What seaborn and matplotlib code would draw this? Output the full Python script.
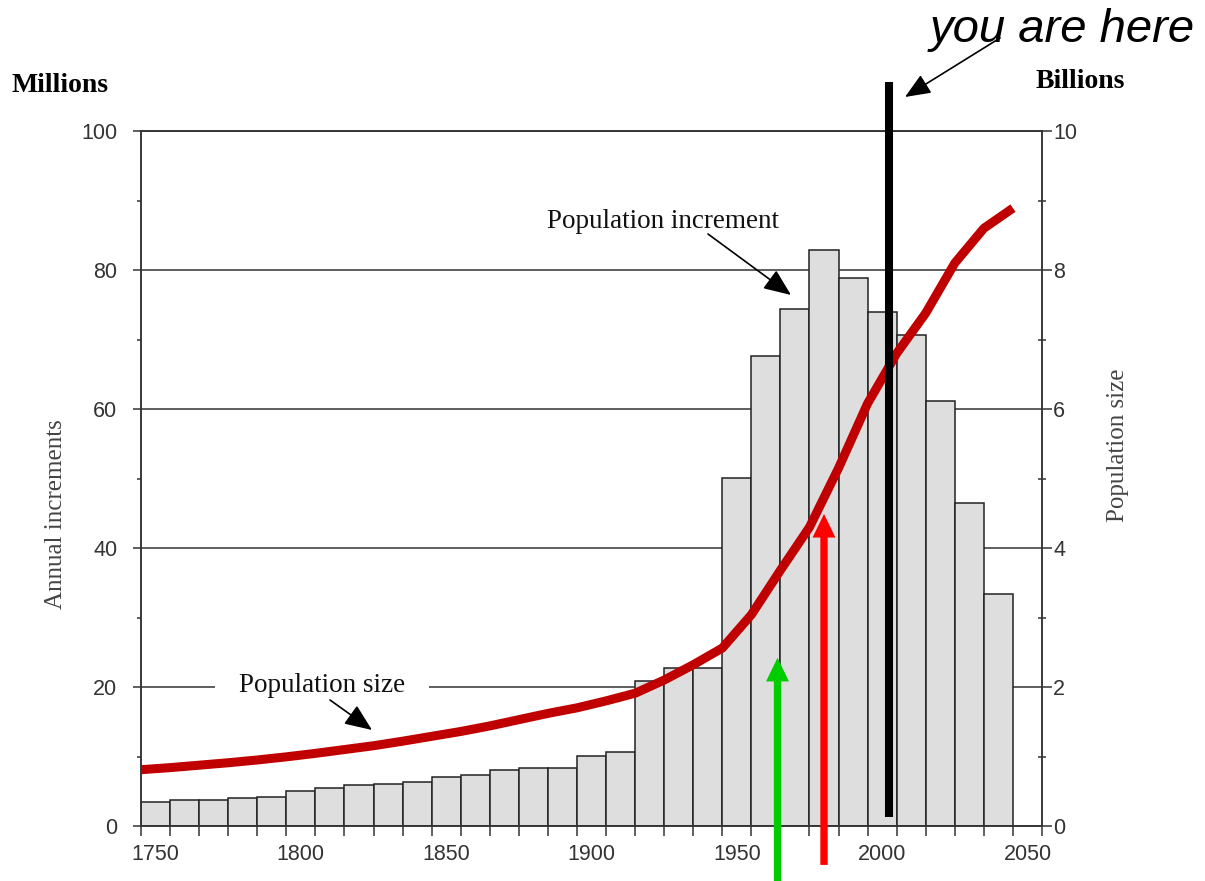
import numpy as np
import pandas as pd
import matplotlib
matplotlib.use('Agg')
import matplotlib.pyplot as plt
import seaborn as sns

# Annual population increments (millions), one bar per decade
bar_years = list(range(1750, 2050, 10))
increments = [3.5, 3.7, 3.7, 4.0, 4.2, 5.0, 5.5, 5.9, 6.0, 6.3,
              7.0, 7.3, 8.0, 8.4, 8.4, 10.1, 10.7, 20.9, 22.8, 22.8,
              50.1, 67.6, 74.4, 82.9, 78.8, 73.9, 70.7, 61.1, 46.5, 33.4]

# Population size (billions), read at the bar edges
pop_years = list(range(1745, 2046, 10))
pop_size = [0.81, 0.84, 0.875, 0.91, 0.95, 0.995, 1.045, 1.10, 1.155, 1.22,
            1.29, 1.36, 1.44, 1.53, 1.62, 1.70, 1.80, 1.91, 2.10, 2.32,
            2.56, 3.04, 3.68, 4.30, 5.15, 6.08, 6.80, 7.38, 8.10, 8.60, 8.89]

x_labels = [1750, 1800, 1850, 1900, 1950, 2000, 2050]
left_ticks = [0, 20, 40, 60, 80, 100]
right_ticks = [0, 2, 4, 6, 8, 10]

# marker years: "you are here", green and red arrows
now_year = 2002.4
green_year = 1964
red_year = 1980

bars = pd.DataFrame({'year': bar_years, 'increment': increments})
pop = pd.DataFrame({'year': pop_years, 'size': pop_size})

sns.set_style('ticks')
plt.rcParams['font.family'] = ['Liberation Sans', 'DejaVu Sans']
plt.rcParams['text.color'] = 'black'
SERIF = ['Liberation Serif', 'DejaVu Serif']
EDGE = '#333333'

W, H = 1205, 881
def fpx(x, y):
    # image pixel position -> figure fraction
    return (x / W, 1 - y / H)

fig = plt.figure(figsize=(W / 100, H / 100), dpi=100)
ax = fig.add_axes([141 / W, 1 - 826 / H, (1042 - 141) / W, (826 - 131) / H])

sns.barplot(data=bars, x='year', y='increment', native_scale=True, width=1,
            color='#dedede', saturation=1, edgecolor='#222222', linewidth=1.1,
            errorbar=None, ax=ax, zorder=2)

ax.set_xlim(1745, 2055)
ax.set_ylim(0, 100)
ax.set_xlabel('')
ax.set_ylabel('')
ax.set_axisbelow(True)
ax.yaxis.grid(True, color=EDGE, lw=1.1)

ax.set_xticks(x_labels)
ax.set_xticks(np.arange(1745, 2056, 10), minor=True)
ax.set_yticks(left_ticks)
ax.set_yticks(np.arange(10, 100, 20), minor=True)
ax.tick_params(axis='x', which='major', length=0, pad=13, labelsize=15.5, labelcolor=EDGE)
ax.tick_params(axis='x', which='minor', direction='out', length=7, width=1.1, color=EDGE)
ax.tick_params(axis='y', which='major', direction='out', length=6, width=1.1,
               color=EDGE, pad=11, labelsize=15.5, labelcolor=EDGE)
ax.tick_params(axis='y', which='minor', direction='out', length=3, width=1.1, color=EDGE)

ax2 = ax.twinx()
sns.lineplot(data=pop, x='year', y='size', ax=ax2, color='#c00000', lw=6.5,
             solid_joinstyle='round', solid_capstyle='butt')
ax2.set_ylim(0, 10)
ax2.set_xlim(1745, 2055)
ax2.set_ylabel('')
ax2.set_yticks(right_ticks)
ax2.set_yticks(np.arange(1, 10, 2), minor=True)
ax2.tick_params(axis='y', which='major', direction='out', length=7, width=1.1,
                color=EDGE, pad=1, labelsize=15.5, labelcolor=EDGE)
ax2.tick_params(axis='y', which='minor', direction='inout', length=6, width=1.1, color=EDGE)

for a in (ax, ax2):
    for s in a.spines.values():
        s.set_visible(True)
        s.set_color(EDGE)
        s.set_linewidth(1.1)

# "you are here" bar and the two arrows
ax2.axvline(now_year, ymin=0.013, ymax=1.07, color='black', lw=5.8,
            solid_capstyle='butt', clip_on=False, zorder=6)
for yr, tip, bottom, col in [(green_year, 2.42, -0.85, '#00cc00'),
                             (red_year, 4.49, -0.56, '#ff0000')]:
    ax2.annotate('', xy=(yr, tip), xytext=(yr, bottom), annotation_clip=False,
                 arrowprops=dict(arrowstyle='simple,head_length=17,head_width=16.5,tail_width=5.3',
                                 mutation_scale=1, color=col, lw=0, shrinkA=0, shrinkB=0,
                                 clip_on=False), zorder=6)

# text labels with pointer arrows
arrow_kw = dict(arrowstyle='-|>,head_length=0.6,head_width=0.25', mutation_scale=28,
                color='black', lw=1.2, shrinkA=0, shrinkB=0)
ax.text(*fpx(322, 686), 'Population size', transform=fig.transFigure, family=SERIF,
        fontsize=19.5, ha='center', va='center', zorder=3, color='#111111',
        bbox=dict(boxstyle='square,pad=0.9', fc='white', ec='none'))
ax.annotate('', xy=fpx(372, 730), xytext=fpx(330, 700), xycoords='figure fraction',
            textcoords='figure fraction', arrowprops=arrow_kw, zorder=5)
fig.text(*fpx(663, 221), 'Population increment', family=SERIF, fontsize=19.5,
         ha='center', va='center', color='#111111')
fig.add_artist(matplotlib.patches.FancyArrowPatch(fpx(708, 234), fpx(791, 295),
                                                  transform=fig.transFigure, **arrow_kw))

fig.text(*fpx(930, 42), 'you are here', fontsize=34, style='italic', ha='left', va='baseline')
fig.add_artist(matplotlib.patches.FancyArrowPatch(fpx(1000, 38), fpx(905, 97),
                                                  transform=fig.transFigure,
                                                  **dict(arrow_kw, mutation_scale=26)))

fig.text(*fpx(12, 92), 'Millions', family=SERIF, fontsize=20, weight='bold', va='baseline')
fig.text(*fpx(1036, 88), 'Billions', family=SERIF, fontsize=20, weight='bold', va='baseline')
fig.text(*fpx(56, 514), 'Annual increments', family=SERIF, fontsize=18, color='#444444',
         rotation=90, ha='center', va='center')
fig.text(*fpx(1118, 445), 'Population size', family=SERIF, fontsize=18, color='#444444',
         rotation=90, ha='center', va='center')

fig.savefig('out.png', dpi=100)
